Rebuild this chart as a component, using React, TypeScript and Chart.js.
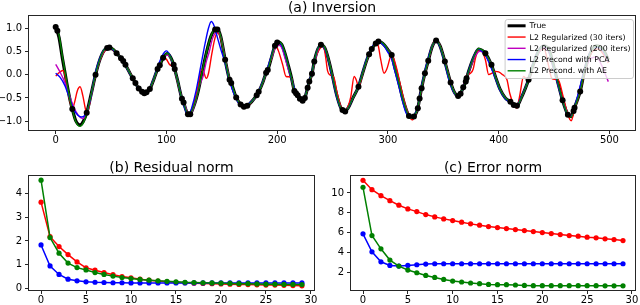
import React, { useEffect, useRef } from "react";
import { Chart, registerables } from "chart.js";

Chart.register(...registerables);

type Pt = [number, number];

// ---------- (a) Inversion ----------
const trueSignal: Pt[] = [
  [0, 1.02], [3, 0.8], [6, 0.36], [10, -0.18], [13, -0.55], [15, -0.74], [18, -0.98], [22, -1.08], [25, -1.0], [28, -0.82],
  [32, -0.42], [36, 0.0], [40, 0.33], [44, 0.53], [48, 0.58], [52, 0.54], [55, 0.46], [59, 0.35], [61, 0.29], [63, 0.21],
  [66, 0.08], [70, -0.1], [72, -0.18], [75, -0.3], [78, -0.37], [80, -0.4], [82, -0.38], [85, -0.31], [88, -0.14], [92, 0.12],
  [94, 0.2], [97, 0.36], [101, 0.45], [104, 0.36], [106.5, 0.21], [107.5, 0.12], [110, -0.12], [114, -0.52], [115.5, -0.6], [118, -0.78],
  [120.5, -0.86], [123, -0.78], [128, -0.42], [132, 0.02], [136, 0.46], [140, 0.81], [143, 0.95], [145, 0.98], [147, 0.95], [149, 0.82],
  [153, 0.32], [157, -0.11], [158.5, -0.18], [163, -0.49], [167, -0.64], [170, -0.69], [173, -0.67], [177, -0.58], [181.5, -0.44], [183.3, -0.37],
  [187, -0.17], [190, 0.04], [191.5, 0.1], [195, 0.38], [198, 0.62], [201, 0.7], [204, 0.65], [207, 0.46], [210, 0.2], [213, -0.08],
  [215.5, -0.35], [217, -0.4], [218.5, -0.44], [220.5, -0.52], [223, -0.56], [225, -0.5], [227.5, -0.28], [229, -0.15], [231.4, 0.02], [233.5, 0.28],
  [236, 0.5], [239.5, 0.64], [243, 0.57], [247, 0.27], [250, -0.04], [254, -0.46], [258, -0.74], [260.5, -0.79], [264, -0.72], [268, -0.52],
  [273.4, -0.26], [277, 0.02], [281, 0.32], [283, 0.44], [285.4, 0.55], [289, 0.67], [292, 0.71], [297, 0.63], [300, 0.53], [303.4, 0.42],
  [306, 0.18], [310, -0.18], [313, -0.48], [316.6, -0.76], [319, -0.89], [321, -0.92], [323.5, -0.9], [327, -0.72], [328.6, -0.51], [330.4, -0.29],
  [333.4, 0.03], [336.4, 0.3], [340, 0.6], [343.5, 0.73], [347, 0.62], [351.4, 0.28], [356.6, -0.17], [360, -0.38], [363.4, -0.46], [365.6, -0.41],
  [368, -0.27], [370.3, -0.15], [371, -0.08], [375, 0.22], [379, 0.45], [382, 0.55], [385, 0.52], [388, 0.46], [393.5, 0.21], [397, -0.04],
  [401, -0.3], [406, -0.5], [410.6, -0.58], [413.6, -0.65], [416.5, -0.67], [420, -0.52], [424, -0.3], [427, -0.11], [431, 0.2], [436, 0.5],
  [441, 0.62], [446, 0.5], [450, 0.15], [454, -0.22], [457.7, -0.55], [462.5, -0.86], [465.5, -0.9], [467.6, -0.78], [468.5, -0.71], [473.6, -0.36],
  [477, 0.02], [482, 0.42], [488, 0.62], [494, 0.55], [499, 0.32],
];

const observations: Pt[] = [
  [0, 1.02], [1.5, 0.94], [15, -0.74], [28, -0.82], [36, 0.0], [46.5, 0.57], [48.5, 0.58], [55, 0.46], [59, 0.35], [61, 0.29],
  [63, 0.21], [69.6, -0.08], [72, -0.18], [75, -0.3], [78, -0.37], [80, -0.4], [82, -0.38], [85, -0.31], [92, 0.12], [94, 0.2],
  [97, 0.36], [106.5, 0.21], [107.5, 0.12], [114, -0.52], [115.5, -0.6], [119.4, -0.85], [121.5, -0.85], [144, 0.97], [146, 0.97], [153, 0.32],
  [157, -0.11], [158.5, -0.18], [163, -0.49], [167, -0.64], [170, -0.69], [173, -0.67], [181.5, -0.44], [183.3, -0.37], [190, 0.04], [191.5, 0.1],
  [198, 0.62], [200, 0.69], [215.5, -0.35], [217, -0.4], [218.5, -0.44], [220.5, -0.52], [223, -0.56], [225, -0.5], [227.5, -0.28], [229, -0.15],
  [231.4, 0.02], [233.5, 0.28], [239.5, 0.64], [259, -0.76], [261.4, -0.79], [273.4, -0.26], [283, 0.44], [285.4, 0.55], [289, 0.67], [291.4, 0.71],
  [303.4, 0.42], [319, -0.89], [323.5, -0.9], [327, -0.72], [328.6, -0.51], [330.4, -0.29], [333.4, 0.03], [336.4, 0.3], [343.5, 0.73], [351.4, 0.28],
  [356.6, -0.17], [363.4, -0.46], [365.6, -0.41], [368, -0.27], [370.3, -0.15], [371, -0.08], [388, 0.46], [393.5, 0.21], [410.6, -0.58], [413.6, -0.65],
  [416.5, -0.67], [427, -0.11], [457.7, -0.55], [462.5, -0.86], [467.6, -0.78], [468.5, -0.71], [473.6, -0.36],
];

const l2Reg30: Pt[] = [
  [0, -0.03], [3, 0.04], [6.3, 0.09], [8, 0.03], [10, -0.26], [13, -0.58], [15, -0.74], [17, -0.6], [19.5, -0.35], [22, -0.26],
  [24.5, -0.45], [27, -0.75], [28.5, -0.82], [32, -0.45], [36, 0.0], [40, 0.32], [44, 0.5], [49, 0.56], [52, 0.53], [55, 0.46],
  [59, 0.35], [63, 0.21], [66, 0.08], [70, -0.1], [75, -0.3], [80, -0.41], [82, -0.39], [85, -0.31], [88, -0.13], [92, 0.12],
  [94, 0.2], [97, 0.39], [100, 0.33], [103, 0.21], [105.5, 0.18], [107.5, 0.1], [110, -0.14], [114, -0.52], [116, -0.64], [120.5, -0.86],
  [124, -0.7], [128, -0.32], [131.5, 0.1], [133, 0.09], [136, -0.08], [138, 0.03], [141, 0.45], [144, 0.8], [146.5, 0.9], [149, 0.78],
  [153, 0.32], [157, -0.11], [163, -0.5], [167, -0.67], [170, -0.72], [173, -0.69], [177, -0.58], [181.5, -0.44], [187, -0.17], [190, 0.04],
  [195, 0.36], [198.4, 0.62], [201, 0.52], [205, 0.21], [208, -0.04], [212.5, -0.05], [215.5, -0.35], [218.5, -0.45], [223, -0.58], [225, -0.52],
  [227.5, -0.28], [231.4, 0.02], [234, 0.3], [237, 0.5], [241.6, 0.61], [243.5, 0.42], [245.5, 0.08], [248, -0.01], [251, -0.05], [254, -0.38],
  [258, -0.72], [261, -0.81], [264, -0.68], [266.5, -0.47], [269.5, -0.04], [271.5, -0.12], [273.4, -0.26], [275, -0.18], [277, 0.02], [281, 0.32],
  [285, 0.54], [289, 0.67], [291, 0.64], [293.5, 0.32], [296.5, 0.03], [299, 0.12], [302, 0.36], [303.4, 0.42], [305, 0.36], [308, 0.12],
  [312, -0.3], [316, -0.68], [319, -0.88], [322, -0.97], [324.5, -0.88], [327, -0.72], [330.4, -0.29], [333.4, 0.03], [336.4, 0.3], [340, 0.62],
  [343, 0.75], [347, 0.62], [351.4, 0.28], [356.6, -0.17], [360, -0.4], [363.4, -0.48], [365.6, -0.42], [368, -0.27], [370.3, -0.05], [372, 0.0],
  [374.6, 0.03], [377, 0.12], [379, 0.35], [382, 0.54], [384.5, 0.52], [388, 0.32], [391, 0.0], [394, 0.03], [397, 0.07], [400, 0.06],
  [403, 0.01], [407.5, -0.11], [410, -0.4], [413.6, -0.65], [416.5, -0.72], [419, -0.45], [422.5, -0.04], [425, -0.09], [427, -0.11], [431, 0.2],
  [436, 0.48], [441, 0.55], [445, 0.2], [448, -0.08], [451, -0.1], [454, -0.12], [458, -0.45], [462.5, -0.86], [465.5, -0.99], [468.5, -0.74],
  [473.6, -0.36], [478, 0.1], [484, 0.48], [490, 0.55], [495, 0.42], [499, 0.25],
];

const l2Reg200: Pt[] = [
  [0, 0.22], [4, 0.05], [8, -0.15], [12, -0.42], [16, -0.68], [20, -0.86], [24, -0.94], [26, -0.92], [29, -0.76], [32, -0.44],
  [36, 0.0], [40, 0.32], [44, 0.52], [48, 0.57], [52, 0.54], [55, 0.46], [59, 0.35], [63, 0.21], [66, 0.08], [70, -0.1],
  [75, -0.3], [80, -0.41], [82, -0.39], [85, -0.31], [88, -0.14], [92, 0.12], [97, 0.36], [101, 0.42], [104, 0.34], [107, 0.14],
  [110, -0.12], [114, -0.52], [116, -0.62], [120.5, -0.86], [123, -0.8], [126, -0.6], [130, -0.22], [133, -0.04], [136, 0.28], [138.3, 0.46],
  [142, 0.8], [146, 0.92], [149, 0.82], [153, 0.33], [157, -0.1], [163, -0.49], [167, -0.64], [170, -0.69], [173, -0.67], [177, -0.58],
  [181.5, -0.44], [187, -0.17], [190, 0.04], [195, 0.36], [198, 0.56], [202, 0.63], [204.5, 0.56], [207, 0.36], [210, 0.12], [213, -0.1],
  [215.5, -0.35], [218.5, -0.45], [223, -0.56], [225, -0.5], [227.5, -0.28], [231.4, 0.02], [234, 0.3], [237, 0.54], [240, 0.64], [243, 0.57],
  [247, 0.27], [250, -0.04], [254, -0.46], [258, -0.74], [261, -0.79], [264, -0.72], [268, -0.52], [273.4, -0.26], [277, 0.02], [281, 0.32],
  [285, 0.54], [289, 0.67], [292, 0.7], [297, 0.63], [300, 0.53], [303.4, 0.42], [306, 0.18], [310, -0.18], [313, -0.48], [316.6, -0.76],
  [319, -0.89], [321, -0.92], [323.5, -0.9], [327, -0.72], [330.4, -0.29], [333.4, 0.03], [336.4, 0.3], [340, 0.6], [343.5, 0.73], [347, 0.62],
  [351.4, 0.28], [356.6, -0.17], [360, -0.38], [363.4, -0.46], [365.6, -0.41], [368, -0.27], [371, -0.08], [375, 0.18], [379, 0.4], [383, 0.5],
  [386, 0.48], [389, 0.4], [393.5, 0.21], [397, -0.04], [401, -0.3], [406, -0.5], [410.6, -0.58], [414, -0.65], [416.5, -0.67], [420, -0.52],
  [424, -0.3], [427, -0.11], [431, 0.2], [436, 0.48], [441, 0.58], [446, 0.46], [450, 0.12], [454, -0.24], [457.7, -0.54], [462.5, -0.85],
  [465.5, -0.89], [468.5, -0.72], [473, -0.33], [477, 0.05], [482, 0.32], [488, 0.38], [493, 0.2], [499, -0.15],
];

const l2PCA: Pt[] = [
  [0, 0.03], [4, -0.06], [8, -0.22], [12, -0.47], [16, -0.73], [20, -0.87], [23.5, -0.91], [26, -0.88], [29, -0.74], [32, -0.45],
  [35.5, 0.0], [39.5, 0.33], [43.5, 0.53], [47, 0.58], [51, 0.55], [55, 0.46], [59, 0.34], [63, 0.2], [66, 0.07], [70, -0.12],
  [75, -0.31], [79, -0.41], [82, -0.38], [85, -0.29], [88, -0.12], [92, 0.16], [96, 0.4], [100, 0.51], [103, 0.42], [106, 0.22],
  [110, -0.12], [114, -0.54], [116, -0.68], [119, -0.85], [121, -0.83], [123, -0.7], [127, -0.32], [131, 0.18], [135, 0.68], [138, 1.0],
  [140.5, 1.14], [143, 1.05], [146, 0.8], [149, 0.55], [153, 0.25], [157, -0.14], [163, -0.52], [168, -0.68], [171, -0.67], [177, -0.57],
  [181.5, -0.44], [187, -0.15], [191, 0.12], [195, 0.42], [199, 0.68], [202, 0.69], [205, 0.58], [209, 0.28], [213, -0.1], [218, -0.45],
  [222, -0.56], [225, -0.5], [227.5, -0.26], [231, 0.02], [234, 0.32], [236, 0.52], [239, 0.65], [242, 0.6], [246, 0.33], [250, -0.08],
  [254, -0.5], [258, -0.75], [260.5, -0.8], [264, -0.72], [268, -0.52], [273, -0.27], [277, 0.04], [281, 0.35], [285, 0.56], [290, 0.71],
  [293, 0.7], [297, 0.6], [300, 0.48], [303, 0.36], [306, 0.1], [310, -0.26], [313, -0.55], [316, -0.8], [319, -0.91], [321, -0.92],
  [323.5, -0.88], [327, -0.7], [330, -0.3], [333, 0.04], [336, 0.32], [340, 0.62], [343, 0.73], [347, 0.6], [351, 0.28], [356, -0.18],
  [360, -0.4], [363, -0.47], [365.5, -0.42], [368, -0.26], [371, -0.06], [375, 0.24], [379, 0.47], [382, 0.55], [385, 0.5], [388, 0.42],
  [393, 0.16], [397, -0.08], [401, -0.33], [406, -0.52], [410.6, -0.6], [414, -0.67], [416.5, -0.66], [420, -0.5], [424, -0.28], [427, -0.1],
  [431, 0.22], [436, 0.51], [441, 0.62], [446, 0.48], [450, 0.12], [454, -0.26], [457.7, -0.56], [462.5, -0.87], [465.5, -0.9], [468.5, -0.7],
  [473, -0.3], [477, 0.06], [482, 0.44], [488, 0.6], [494, 0.52], [499, 0.28],
];

const l2AE: Pt[] = [
  [0, 1.07], [3, 0.85], [6, 0.4], [10, -0.16], [13, -0.55], [15, -0.75], [18, -1.0], [22, -1.11], [25, -1.03], [28, -0.84],
  [32, -0.43], [36, 0.0], [40, 0.33], [44, 0.54], [48, 0.59], [52, 0.55], [55, 0.46], [59, 0.35], [61, 0.29], [63, 0.21],
  [66, 0.08], [70, -0.1], [72, -0.18], [75, -0.3], [78, -0.37], [80, -0.4], [82, -0.38], [85, -0.31], [88, -0.14], [92, 0.12],
  [94, 0.2], [97, 0.36], [101, 0.46], [104, 0.36], [106.5, 0.21], [107.5, 0.12], [110, -0.12], [114, -0.52], [115.5, -0.6], [118, -0.78],
  [120.5, -0.87], [123, -0.78], [128, -0.42], [132, 0.02], [136, 0.46], [140, 0.82], [143, 0.96], [145, 0.99], [147, 0.96], [149, 0.82],
  [153, 0.32], [157, -0.11], [158.5, -0.18], [163, -0.49], [167, -0.64], [170, -0.69], [173, -0.67], [177, -0.58], [181.5, -0.44], [183.3, -0.37],
  [187, -0.17], [190, 0.04], [191.5, 0.1], [195, 0.39], [198, 0.63], [201, 0.72], [204, 0.66], [207, 0.47], [210, 0.2], [213, -0.08],
  [215.5, -0.35], [217, -0.4], [218.5, -0.44], [220.5, -0.52], [223, -0.56], [225, -0.5], [227.5, -0.28], [229, -0.15], [231.4, 0.02], [233.5, 0.28],
  [236, 0.51], [239.5, 0.66], [243, 0.58], [247, 0.27], [250, -0.04], [254, -0.46], [258, -0.75], [260.5, -0.8], [264, -0.72], [268, -0.52],
  [273.4, -0.26], [277, 0.02], [281, 0.32], [283, 0.44], [285.4, 0.55], [289, 0.68], [292, 0.72], [297, 0.64], [300, 0.53], [303.4, 0.42],
  [306, 0.18], [310, -0.18], [313, -0.48], [316.6, -0.76], [319, -0.9], [321, -0.93], [323.5, -0.9], [327, -0.72], [328.6, -0.51], [330.4, -0.29],
  [333.4, 0.03], [336.4, 0.3], [340, 0.61], [343.5, 0.74], [347, 0.62], [351.4, 0.28], [356.6, -0.17], [360, -0.38], [363.4, -0.47], [365.6, -0.41],
  [368, -0.27], [370.3, -0.15], [371, -0.08], [375, 0.22], [379, 0.46], [382, 0.56], [385, 0.53], [388, 0.46], [393.5, 0.21], [397, -0.04],
  [401, -0.3], [406, -0.5], [410.6, -0.58], [413.6, -0.65], [416.5, -0.67], [420, -0.52], [424, -0.3], [427, -0.11], [431, 0.2], [436, 0.5],
  [441, 0.62], [446, 0.5], [450, 0.15], [454, -0.22], [457.7, -0.55], [462.5, -0.87], [465.5, -0.91], [467.6, -0.78], [468.5, -0.71], [473.6, -0.36],
  [477, 0.02], [482, 0.42], [488, 0.62], [494, 0.55], [499, 0.32],
];

const inversionXTicks = [0, 100, 200, 300, 400, 500];
const inversionYTicks = [-1.0, -0.5, 0.0, 0.5, 1.0];

// ---------- (b) Residual norm, (c) Error norm ----------
const iterations = [0, 1, 2, 3, 4, 5, 6, 7, 8, 9, 10, 11, 12, 13, 14, 15, 16, 17, 18, 19, 20, 21, 22, 23, 24, 25, 26, 27, 28, 29];

const residualL2 = [3.64, 2.18, 1.76, 1.42, 1.11, 0.86, 0.76, 0.66, 0.57, 0.49, 0.44, 0.38, 0.34, 0.3, 0.27, 0.25, 0.23, 0.21, 0.2, 0.19, 0.18, 0.17, 0.16, 0.15, 0.14, 0.13, 0.13, 0.12, 0.11, 0.1];
const residualPCA = [1.83, 0.94, 0.58, 0.38, 0.31, 0.27, 0.25, 0.24, 0.23, 0.23, 0.22, 0.22, 0.22, 0.22, 0.22, 0.22, 0.22, 0.22, 0.22, 0.22, 0.22, 0.22, 0.22, 0.22, 0.22, 0.22, 0.22, 0.22, 0.22, 0.22];
const residualAE = [4.57, 2.14, 1.48, 1.06, 0.87, 0.77, 0.66, 0.58, 0.51, 0.45, 0.41, 0.37, 0.34, 0.31, 0.29, 0.27, 0.25, 0.24, 0.23, 0.22, 0.21, 0.2, 0.19, 0.19, 0.18, 0.17, 0.17, 0.16, 0.16, 0.15];

const errorL2 = [11.27, 10.33, 9.73, 9.23, 8.77, 8.4, 8.13, 7.83, 7.6, 7.4, 7.23, 7.07, 6.9, 6.77, 6.63, 6.53, 6.43, 6.33, 6.23, 6.13, 6.03, 5.93, 5.83, 5.73, 5.67, 5.57, 5.5, 5.4, 5.33, 5.23];
const errorPCA = [5.9, 4.1, 3.1, 2.73, 2.67, 2.73, 2.8, 2.87, 2.9, 2.9, 2.9, 2.9, 2.9, 2.9, 2.9, 2.9, 2.9, 2.9, 2.9, 2.9, 2.9, 2.9, 2.9, 2.9, 2.9, 2.9, 2.9, 2.9, 2.9, 2.9];
const errorAE = [10.57, 5.73, 4.4, 3.27, 2.67, 2.27, 2.0, 1.73, 1.53, 1.33, 1.17, 1.07, 0.97, 0.9, 0.83, 0.8, 0.8, 0.77, 0.73, 0.7, 0.7, 0.7, 0.7, 0.7, 0.7, 0.7, 0.7, 0.69, 0.69, 0.69];

const iterXTicks = [0, 5, 10, 15, 20, 25, 30];
const residualYTicks = [0, 1, 2, 3, 4];
const errorYTicks = [2, 4, 6, 8, 10];

// ---------- styling ----------
const FONT = '"DejaVu Sans", "Liberation Sans", sans-serif';
const INK = "#262626";
const RED = "#ff0000";
const MAGENTA = "#bf00bf";
const BLUE = "#0000ff";
const GREEN = "#008000";
const BLACK = "#000000";

const legendItems = [
  { label: "True", color: BLACK, width: 3 },
  { label: "L2 Regularized (30 iters)", color: RED, width: 1.4 },
  { label: "L2 Regularized (200 iters)", color: MAGENTA, width: 1.4 },
  { label: "L2 Precond with PCA", color: BLUE, width: 1.4 },
  { label: "L2 Precond. with AE", color: GREEN, width: 1.4 },
];

const toXY = (pts: Pt[]) => pts.map(([x, y]) => ({ x, y }));
const iterXY = (ys: number[]) => ys.map((y, i) => ({ x: iterations[i], y }));

const fmtMinus = (v: number, digits: number) => (v < 0 ? "\u2212" : "") + Math.abs(v).toFixed(digits);

function decorPlugin(title: string, legend?: typeof legendItems) {
  return {
    id: "decor",
    afterDatasetsDraw(chart: any) {
      const { ctx, chartArea: a } = chart;
      ctx.save();
      ctx.strokeStyle = INK;
      ctx.lineWidth = 1;
      ctx.strokeRect(a.left + 0.5, a.top + 0.5, a.right - a.left - 1, a.bottom - a.top - 1);
      ctx.fillStyle = "#000";
      ctx.font = `14px ${FONT}`;
      ctx.textAlign = "center";
      ctx.textBaseline = "alphabetic";
      ctx.fillText(title, (a.left + a.right) / 2, a.top - 3.5);
      if (legend) {
        ctx.font = `7.8px ${FONT}`;
        const tw = Math.max(...legend.map((it) => ctx.measureText(it.label).width));
        const padL = 3, handle = 18, gap = 4, padR = 2.5, rowH = 11.25;
        const w = padL + handle + gap + tw + padR;
        const h = 59;
        const right = a.right - 3;
        const left = right - w;
        const top = a.top + 4;
        ctx.beginPath();
        ctx.roundRect(left + 0.5, top + 0.5, w, h, 2.5);
        ctx.fillStyle = "rgba(255,255,255,0.8)";
        ctx.fill();
        ctx.strokeStyle = "#cccccc";
        ctx.lineWidth = 1;
        ctx.stroke();
        legend.forEach((it, i) => {
          const y = top + 6.8 + i * rowH;
          ctx.beginPath();
          ctx.strokeStyle = it.color;
          ctx.lineWidth = it.width;
          ctx.moveTo(left + padL, y);
          ctx.lineTo(left + padL + handle, y);
          ctx.stroke();
          ctx.fillStyle = "#000";
          ctx.textAlign = "left";
          ctx.textBaseline = "middle";
          ctx.fillText(it.label, left + padL + handle + gap, y + 0.5);
        });
      }
      ctx.restore();
    },
  };
}

function linScale(min: number, max: number, tickValues: number[], fmt: (v: number) => string, isX: boolean, size: number) {
  return {
    type: "linear",
    min,
    max,
    afterBuildTicks: (s: any) => {
      s.ticks = tickValues.map((value) => ({ value }));
    },
    afterFit: (s: any) => {
      if (isX) {
        s.height = size;
        s.paddingLeft = 0;
        s.paddingRight = 0;
      } else {
        s.width = size;
        s.paddingTop = 0;
        s.paddingBottom = 0;
      }
    },
    grid: { display: true, drawOnChartArea: false, drawTicks: true, tickLength: 3, tickColor: INK, tickWidth: 1 },
    border: { display: false },
    ticks: {
      font: { family: FONT, size: 10 },
      color: "#000",
      padding: isX ? 0 : 3,
      maxRotation: 0,
      minRotation: 0,
      autoSkip: false,
      callback: (v: any) => fmt(Number(v)),
    },
  };
}

function baseOptions(padding: any, scales: any) {
  return {
    animation: false,
    responsive: false,
    maintainAspectRatio: false,
    devicePixelRatio: 1,
    events: [],
    layout: { padding },
    plugins: { legend: { display: false }, tooltip: { enabled: false }, title: { display: false } },
    scales,
  };
}

function inversionConfig(): any {
  const line = (pts: Pt[], color: string, width: number, order: number) => ({
    data: toXY(pts),
    borderColor: color,
    backgroundColor: color,
    borderWidth: width,
    pointRadius: 0,
    cubicInterpolationMode: "monotone",
    fill: false,
    order,
  });
  return {
    type: "line",
    data: {
      datasets: [
        {
          data: toXY(observations),
          showLine: false,
          pointRadius: 3,
          pointBackgroundColor: BLACK,
          pointBorderColor: BLACK,
          pointBorderWidth: 0,
          order: 0,
        },
        line(l2AE, GREEN, 1.4, 1),
        line(l2PCA, BLUE, 1.4, 2),
        line(l2Reg200, MAGENTA, 1.4, 3),
        line(l2Reg30, RED, 1.4, 4),
        line(trueSignal, BLACK, 3.2, 5),
      ],
    },
    options: baseOptions(
      { left: 0, right: 3, top: 15, bottom: 0 },
      {
        x: linScale(-25, 524, inversionXTicks, (v) => String(v), true, 17),
        y: linScale(-1.21, 1.28, inversionYTicks, (v) => fmtMinus(v, 1), false, 28),
      }
    ),
    plugins: [decorPlugin("(a) Inversion", legendItems)],
  };
}

function iterConfig(title: string, l2: number[], pca: number[], ae: number[], yMin: number, yMax: number, yTicks: number[], left: number, right: number): any {
  const line = (ys: number[], color: string, order: number) => ({
    data: iterXY(ys),
    borderColor: color,
    backgroundColor: color,
    borderWidth: 1.5,
    pointRadius: 2.6,
    pointBackgroundColor: color,
    pointBorderColor: color,
    pointBorderWidth: 0,
    tension: 0,
    fill: false,
    order,
  });
  return {
    type: "line",
    data: { datasets: [line(ae, GREEN, 1), line(pca, BLUE, 2), line(l2, RED, 3)] },
    options: baseOptions(
      { left: 0, right, top: 27, bottom: 0 },
      {
        x: linScale(-1.45, 30.45, iterXTicks, (v) => String(v), true, 14),
        y: linScale(yMin, yMax, yTicks, (v) => String(v), false, left),
      }
    ),
    plugins: [decorPlugin(title)],
  };
}

function ChartBox(props: { make: () => any; left: number; top: number; width: number; height: number }) {
  const ref = useRef<HTMLCanvasElement | null>(null);
  useEffect(() => {
    if (!ref.current) return;
    const chart = new Chart(ref.current, props.make());
    return () => chart.destroy();
  }, []);
  return (
    <canvas
      ref={ref}
      width={props.width}
      height={props.height}
      style={{ position: "absolute", left: props.left, top: props.top, width: props.width, height: props.height }}
    />
  );
}

export default function App() {
  return (
    <div style={{ position: "fixed", left: 0, top: 0, width: 640, height: 305, background: "#ffffff", overflow: "hidden" }}>
      <ChartBox make={inversionConfig} left={0} top={0} width={640} height={148} />
      <ChartBox
        make={() => iterConfig("(b) Residual norm", residualL2, residualPCA, residualAE, -0.12, 4.79, residualYTicks, 28, 5)}
        left={0}
        top={148}
        width={320}
        height={157}
      />
      <ChartBox
        make={() => iterConfig("(c) Error norm", errorL2, errorPCA, errorAE, 0.17, 11.8, errorYTicks, 30, 3)}
        left={320}
        top={148}
        width={320}
        height={157}
      />
    </div>
  );
}
